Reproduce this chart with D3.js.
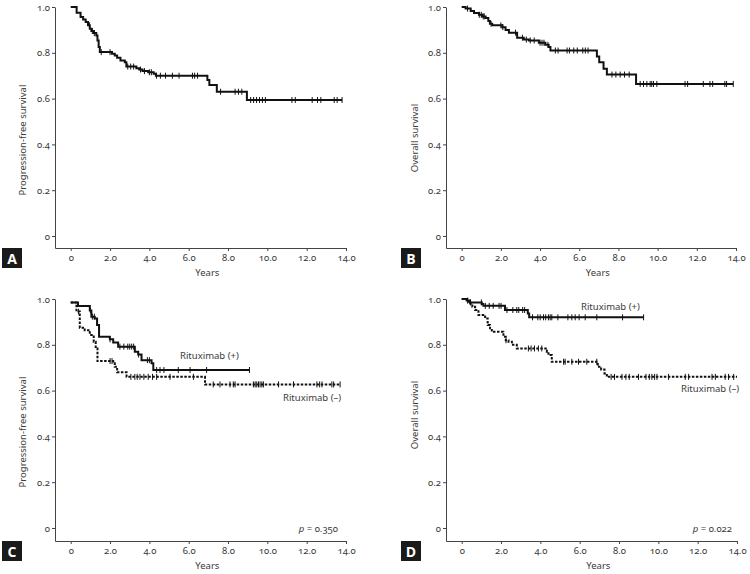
<!DOCTYPE html>
<html>
<head>
<meta charset="utf-8">
<script src="https://cdn.jsdelivr.net/npm/d3@7"></script>
<style>
  body { margin: 0; background: #fff; }
  svg { display: block; font-family: "Noto Sans", Lato, sans-serif; font-variant-numeric: oldstyle-nums; font-feature-settings: "onum" 1; }
  .tick text { fill: #3a3a3a; font-size: 9.5px; font-family: "Noto Sans", Lato, sans-serif; }
  .domain, .tick line { stroke: #444; }
  .lbl { fill: #3a3a3a; font-size: 9.5px; }
</style>
</head>
<body>
<svg id="chart" width="750" height="574"></svg>
<script>
// tick values
const xTicks = [0, 2, 4, 6, 8, 10, 12, 14];
const yTicks = [0, 0.2, 0.4, 0.6, 0.8, 1.0];

// A: progression-free survival, all patients
const aTime = [0, 0.3, 0.5, 0.63, 0.76, 0.88, 0.97, 1.05, 1.17, 1.3, 1.36, 1.42, 1.48, 2.1, 2.24, 2.36, 2.53, 2.75, 2.83, 3.34, 3.48, 3.65, 3.94, 4.22, 4.33, 6.95, 7.05, 7.43, 8.96, 13.8];
const aSurv = [1.0, 0.975, 0.956, 0.945, 0.934, 0.92, 0.905, 0.895, 0.886, 0.876, 0.854, 0.825, 0.803, 0.796, 0.788, 0.778, 0.766, 0.759, 0.74, 0.733, 0.727, 0.72, 0.715, 0.708, 0.70, 0.681, 0.659, 0.63, 0.594, 0.594];
const aCensor = [0.95, 1.1, 1.2, 1.55, 2.0, 2.9, 3.05, 3.2, 3.55, 3.75, 4.0, 4.1, 4.36, 4.56, 4.82, 5.17, 5.51, 6.19, 6.3, 6.45, 7.62, 8.36, 8.53, 8.7, 9.15, 9.3, 9.45, 9.6, 9.75, 9.9, 11.25, 11.42, 12.28, 12.55, 12.72, 13.4, 13.55, 13.8];

// B: overall survival, all patients
const bTime = [0, 0.2, 0.46, 0.63, 0.88, 1.05, 1.22, 1.36, 1.44, 1.56, 2.07, 2.24, 2.41, 2.83, 3.17, 3.43, 3.94, 4.27, 4.44, 4.53, 6.9, 7.02, 7.24, 7.41, 8.9, 13.86];
const bSurv = [1.0, 0.993, 0.982, 0.974, 0.966, 0.959, 0.952, 0.939, 0.927, 0.92, 0.912, 0.9, 0.888, 0.866, 0.858, 0.854, 0.844, 0.835, 0.825, 0.81, 0.784, 0.759, 0.73, 0.705, 0.664, 0.664];
const bCensor = [0.3, 0.9, 1.0, 1.1, 1.15, 1.5, 2.0, 2.1, 2.75, 3.1, 3.3, 3.5, 3.7, 4.0, 4.1, 4.2, 4.4, 4.78, 4.92, 5.38, 5.5, 5.72, 5.9, 6.18, 6.31, 6.45, 7.67, 7.87, 8.09, 8.31, 8.55, 9.11, 9.28, 9.45, 9.62, 9.7, 9.79, 9.96, 11.4, 11.53, 12.33, 12.67, 12.81, 13.43, 13.52, 13.86];

// C: progression-free survival by rituximab
const cPosTime = [0, 0.37, 0.97, 1.05, 1.22, 1.34, 1.44, 1.99, 2.16, 2.41, 3.26, 3.43, 3.6, 4.11, 4.2, 9.09];
const cPosSurv = [0.985, 0.969, 0.95, 0.923, 0.915, 0.886, 0.835, 0.824, 0.81, 0.792, 0.77, 0.758, 0.733, 0.719, 0.69, 0.69];
const cPosCensor = [1.0, 1.1, 1.2, 2.0, 2.5, 2.7, 2.9, 3.0, 3.1, 3.2, 3.45, 3.9, 4.0, 4.37, 4.54, 4.74, 5.47, 6.07, 6.91, 9.09];
const cNegTime = [0, 0.29, 0.46, 0.71, 0.97, 1.17, 1.27, 1.36, 2.16, 2.24, 2.36, 2.84, 6.83, 13.7];
const cNegSurv = [0.985, 0.945, 0.875, 0.864, 0.843, 0.813, 0.784, 0.729, 0.719, 0.704, 0.68, 0.66, 0.627, 0.627];
const cNegCensor = [0.4, 2.0, 2.1, 3.06, 3.26, 3.38, 3.52, 3.72, 3.94, 4.16, 4.37, 5.05, 6.24, 7.25, 7.59, 8.1, 8.27, 8.36, 9.29, 9.38, 9.46, 9.55, 9.63, 9.72, 9.8, 10.57, 11.33, 12.52, 12.66, 12.78, 13.28, 13.37, 13.7];

// D: overall survival by rituximab
const dPosTime = [0, 0.25, 0.42, 1.02, 1.1, 2.2, 3.36, 3.43, 9.25];
const dPosSurv = [1.0, 0.993, 0.985, 0.978, 0.97, 0.952, 0.937, 0.92, 0.92];
const dPosCensor = [0.3, 0.45, 1.0, 1.2, 1.4, 1.6, 1.9, 2.0, 2.3, 2.6, 2.8, 2.9, 3.1, 3.2, 3.6, 3.87, 3.99, 4.16, 4.27, 4.41, 4.5, 4.58, 4.89, 5.4, 5.6, 5.77, 5.97, 6.28, 6.87, 8.18, 9.25];
const dNegTime = [0, 0.34, 0.54, 0.68, 0.85, 1.19, 1.32, 1.44, 1.53, 2.12, 2.24, 2.38, 2.55, 2.8, 4.33, 4.41, 4.58, 6.92, 7.09, 7.26, 7.38, 14.0];
const dNegSurv = [1.0, 0.98, 0.966, 0.952, 0.93, 0.915, 0.886, 0.872, 0.857, 0.835, 0.82, 0.813, 0.80, 0.784, 0.77, 0.755, 0.726, 0.704, 0.692, 0.675, 0.66, 0.66];
const dNegCensor = [2.25, 3.39, 3.53, 3.7, 3.9, 4.07, 5.18, 5.26, 5.6, 5.94, 6.36, 6.87, 7.6, 7.77, 8.15, 8.35, 8.52, 8.99, 9.37, 9.54, 9.67, 9.81, 9.93, 10.52, 11.37, 11.54, 12.73, 12.9, 13.4, 13.57, 13.83];

const svg = d3.select('#chart');

const panels = [
  { letter: 'A', left: 55, right: 346, top: 7, zero: 236, axisY: 248, ylab: 'Progression-free survival', ylabX: 23, ylabY: 140,
    curves: [{ t: aTime, s: aSurv, c: aCensor, dash: null }] },
  { letter: 'B', left: 446, right: 736, top: 7, zero: 236, axisY: 248, ylab: 'Overall survival', ylabX: 415, ylabY: 138,
    curves: [{ t: bTime, s: bSurv, c: bCensor, dash: null }] },
  { letter: 'C', left: 55, right: 346, top: 299, zero: 528, axisY: 541, ylab: 'Progression-free survival', ylabX: 23, ylabY: 432,
    curves: [{ t: cNegTime, s: cNegSurv, c: cNegCensor, dash: '2.5,1.5' }, { t: cPosTime, s: cPosSurv, c: cPosCensor, dash: null }],
    notes: [{ text: 'Rituximab (+)', x: 180, y: 359 }, { text: 'Rituximab (\u2013)', x: 283, y: 401 }],
    p: { value: '0.350', x: 338, y: 532 } },
  { letter: 'D', left: 446, right: 737, top: 299, zero: 528, axisY: 541, ylab: 'Overall survival', ylabX: 415, ylabY: 415,
    curves: [{ t: dNegTime, s: dNegSurv, c: dNegCensor, dash: '2.5,1.5' }, { t: dPosTime, s: dPosSurv, c: dPosCensor, dash: null }],
    notes: [{ text: 'Rituximab (+)', x: 581, y: 310 }, { text: 'Rituximab (\u2013)', x: 681, y: 392 }],
    p: { value: '0.022', x: 732, y: 532 } }
];

const fmt = d => d === 0 ? '0' : d3.format('.1f')(d);

panels.forEach(p => {
  const g = svg.append('g');
  // x axis starts a little left of 0
  const x = d3.scaleLinear().domain([-0.8, 14]).range([p.left, p.right]);
  const yMin = -(p.axisY - p.zero) / (p.zero - p.top);
  const y = d3.scaleLinear().domain([yMin, 1]).range([p.axisY, p.top]);

  g.append('g').attr('transform', `translate(0,${p.axisY})`)
    .call(d3.axisBottom(x).tickValues(xTicks).tickFormat(fmt).tickSize(3).tickSizeOuter(0).tickPadding(3));
  g.append('g').attr('transform', `translate(${p.left},0)`)
    .call(d3.axisLeft(y).tickValues(yTicks).tickFormat(fmt).tickSize(3).tickSizeOuter(0).tickPadding(2));

  const line = d3.line().curve(d3.curveStepAfter).x(d => x(d[0])).y(d => y(d[1]));

  p.curves.forEach(cv => {
    const pts = cv.t.map((t, i) => [t, cv.s[i]]);
    g.append('path').datum(pts)
      .attr('d', line)
      .attr('fill', 'none')
      .attr('stroke', '#111')
      .attr('stroke-width', 2)
      .attr('stroke-dasharray', cv.dash);
    // censor ticks sit on the step curve
    const sAt = t => cv.s[Math.max(0, d3.bisectRight(cv.t, t) - 1)];
    g.selectAll(null).data(cv.c).enter().append('line')
      .attr('x1', d => x(d)).attr('x2', d => x(d))
      .attr('y1', d => y(sAt(d)) - 3).attr('y2', d => y(sAt(d)) + 3)
      .attr('stroke', '#111').attr('stroke-width', 1);
  });

  (p.notes || []).forEach(n => {
    g.append('text').attr('class', 'lbl').attr('x', n.x).attr('y', n.y).text(n.text);
  });
  if (p.p) {
    const t = g.append('text').attr('class', 'lbl').attr('x', p.p.x).attr('y', p.p.y).attr('text-anchor', 'end');
    t.append('tspan').attr('font-style', 'italic').text('p');
    t.append('tspan').text(' = ' + p.p.value);
  }

  g.append('text').attr('class', 'lbl')
    .attr('x', (x(0) + x(14)) / 2 - 1).attr('y', p.axisY + 28)
    .attr('text-anchor', 'middle').text('Years');
  g.append('text').attr('class', 'lbl')
    .attr('transform', `translate(${p.ylabX},${p.ylabY}) rotate(-90)`)
    .attr('text-anchor', 'middle').attr('dy', '0.35em').text(p.ylab);

  // panel letter box
  const bx = p.left < 100 ? 2 : 401;
  g.append('rect').attr('x', bx).attr('y', p.axisY).attr('width', 20).attr('height', 20).attr('fill', '#1a1a1a');
  g.append('text').attr('x', bx + 10).attr('y', p.axisY + 15.5)
    .attr('text-anchor', 'middle').attr('fill', '#fff')
    .attr('font-size', 14).attr('font-weight', 'bold')
    .attr('font-family', '"Open Sans", sans-serif').text(p.letter);
});
</script>
</body>
</html>
